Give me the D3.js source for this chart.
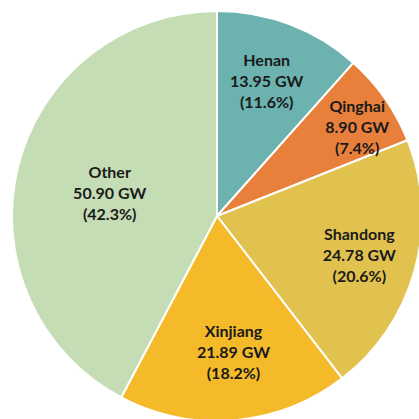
<!DOCTYPE html>
<html><head><meta charset="utf-8">
<script src="https://cdn.jsdelivr.net/npm/d3@7"></script>
<style>body{margin:0;background:#fff}svg{display:block}</style>
</head><body>
<script>
const categories = ["Henan","Qinghai","Shandong","Xinjiang","Other"];
const values = [13.95, 8.90, 24.78, 21.89, 50.90];
const valueLabels = ["13.95 GW","8.90 GW","24.78 GW","21.89 GW","50.90 GW"];
const pctLabels = ["(11.6%)","(7.4%)","(20.6%)","(18.2%)","(42.3%)"];
const colors = ["#6cb2af","#e8803c","#e2c24f","#f4ba2a","#c5ddb5"];
// label placement: radius fraction and angle tweak (degrees) per slice
const labelRadius = [0.70, 0.81, 0.72, 0.67, 0.535];
const labelAngle = [-0.6, 2.6, 0, -2, -2];

const W = 419, H = 419, cx = 217, cy = 216, R = 205;
const svg = d3.select("body").append("svg").attr("width", W).attr("height", H);
const g = svg.append("g").attr("transform", `translate(${cx},${cy})`);
const data = categories.map((c,i)=>({c, v: values[i], i}));
const pie = d3.pie().value(d=>d.v).sort(null);
const arcs = pie(data);
const arc = d3.arc().innerRadius(0).outerRadius(R);
g.selectAll("path").data(arcs).join("path")
  .attr("d", arc).attr("fill", d=>colors[d.data.i])
  .attr("stroke", "#fff").attr("stroke-width", 2).attr("stroke-linejoin","round");

const lab = g.selectAll("text.lab").data(arcs).join("text")
  .attr("class","lab")
  .attr("text-anchor","middle")
  .attr("font-family","Lato, 'Open Sans', sans-serif")
  .attr("font-weight","bold").attr("font-size", 16).attr("fill","#1a1a1a")
  .attr("transform", d=>{
    const r = R*labelRadius[d.data.i];
    const a = (d.startAngle+d.endAngle)/2 + labelAngle[d.data.i]*Math.PI/180;
    return `translate(${r*Math.sin(a)},${-r*Math.cos(a)})`;
  });
lab.each(function(d){
  const t = d3.select(this);
  const lines = [categories[d.data.i], valueLabels[d.data.i], pctLabels[d.data.i]];
  lines.forEach((s,k)=>{
    t.append("tspan").attr("x",0).attr("y",(k-1)*21).attr("dy","0.35em").text(s);
  });
});
</script>
</body></html>
